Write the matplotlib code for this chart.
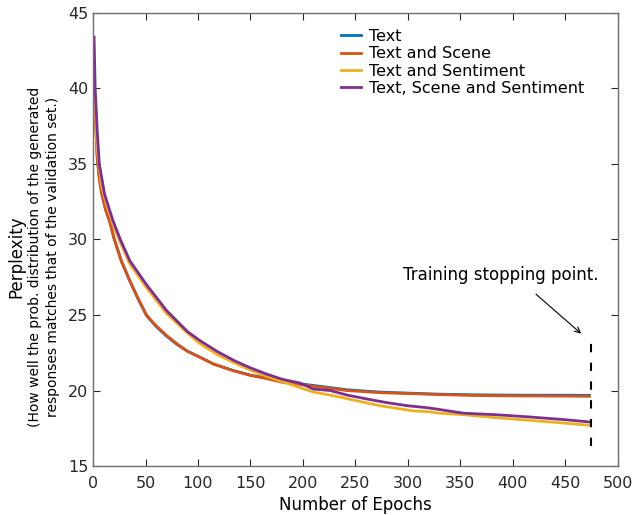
import numpy as np
import matplotlib
matplotlib.use("Agg")
import matplotlib.pyplot as plt

# values (epoch, perplexity)
ep_scene = [1, 2, 4, 6, 8, 12, 16, 20, 27, 35, 43, 51, 60, 70, 80, 90, 102, 115, 134,
            150, 165, 180, 197, 220, 242, 273, 300, 330, 360, 390, 420, 450, 473]
text_and_scene = [39.9, 38.5, 35.5, 34.1, 33.2, 32.0, 31.2, 30.1, 28.6, 27.3, 26.1, 25.0,
                  24.3, 23.65, 23.1, 22.6, 22.2, 21.75, 21.3, 21.0, 20.8, 20.55, 20.4,
                  20.2, 20.0, 19.86, 19.8, 19.73, 19.68, 19.65, 19.64, 19.63, 19.62]
text_only = [39.8, 38.4, 35.4, 34.0, 33.1, 31.95, 31.15, 30.05, 28.55, 27.25, 26.05,
             24.95, 24.25, 23.6, 23.05, 22.6, 22.2, 21.75, 21.32, 21.02, 20.83, 20.6,
             20.45, 20.25, 20.05, 19.9, 19.83, 19.76, 19.72, 19.7, 19.69, 19.69, 19.68]

ep_sent = [1, 2, 4, 8, 12, 19, 26, 35, 51, 70, 90, 102, 118, 134, 150, 165, 180, 197,
           210, 226, 242, 273, 305, 320, 330, 353, 384, 416, 448, 473]
text_and_sentiment = [40.2, 38.7, 36.0, 33.6, 32.5, 31.0, 29.8, 28.4, 26.8, 25.1, 23.8,
                      23.1, 22.4, 21.85, 21.35, 20.95, 20.6, 20.2, 19.9, 19.7, 19.46,
                      19.0, 18.65, 18.6, 18.5, 18.4, 18.2, 18.03, 17.85, 17.7]

ep_all = [1, 2, 4, 6, 11, 19, 26, 35, 43, 51, 60, 70, 80, 90, 102, 118, 134, 150, 165,
          180, 197, 210, 226, 242, 264, 280, 299, 320, 353, 384, 416, 448, 473]
text_scene_sentiment = [43.4, 40.1, 37.2, 35.0, 33.0, 31.25, 30.0, 28.6, 27.8, 27.0, 26.2,
                        25.3, 24.6, 23.9, 23.3, 22.6, 22.0, 21.5, 21.1, 20.75, 20.5, 20.1,
                        20.0, 19.7, 19.4, 19.2, 19.0, 18.85, 18.5, 18.4, 18.25, 18.08, 17.92]

stop_epoch = 474

plt.rcParams['font.family'] = 'DejaVu Sans'

fig = plt.figure(figsize=(6.35, 5.15), dpi=100)
ax = fig.add_axes([0.1465, 0.095, 0.8265, 0.88])

ax.plot(ep_scene, text_only, color='#0072BD', lw=2.0, label='Text')
ax.plot(ep_scene, text_and_scene, color='#D95319', lw=2.0, label='Text and Scene')
ax.plot(ep_sent, text_and_sentiment, color='#EDB120', lw=2.0, label='Text and Sentiment')
ax.plot(ep_all, text_scene_sentiment, color='#7E2F8E', lw=2.0,
        label='Text, Scene and Sentiment')

# stopping point marker
ax.plot([stop_epoch, stop_epoch], [16.3, 23.3], color='black', lw=1.5,
        linestyle=(0, (4, 5)))
ax.text(388, 27.65, 'Training stopping point.', ha='center', va='center', fontsize=12)
ax.annotate('', xy=(467, 23.65), xytext=(420, 26.5),
            arrowprops=dict(arrowstyle='->', color='black', lw=0.8))

ax.set_xlim(0, 500)
ax.set_ylim(15, 45)
ax.set_xticks(np.arange(0, 501, 50))
ax.set_yticks(np.arange(15, 46, 5))
ax.tick_params(direction='in', length=5, top=True, right=True, labelsize=11.5,
               colors='#262626', width=0.8)
ax.tick_params(axis='x', pad=7)
for s in ax.spines.values():
    s.set_color('#6e6e6e')
    s.set_linewidth(1.0)

ax.set_xlabel('Number of Epochs', fontsize=12, labelpad=4)

fig.text(16 / 635, 1 - 257 / 515, 'Perplexity', rotation=90, ha='center', va='center',
         fontsize=12)
fig.text(35 / 635, 1 - 257 / 515, '(How well the prob. distribution of the generated',
         rotation=90, ha='center', va='center', fontsize=10)
fig.text(53 / 635, 1 - 257 / 515, 'responses matches that of the validation set.)',
         rotation=90, ha='center', va='center', fontsize=10)

ax.legend(loc='upper left', bbox_to_anchor=(0.443, 1.0), frameon=False, fontsize=11.5,
          handlelength=1.2, handletextpad=0.5, labelspacing=0.15, borderaxespad=0.6)

fig.savefig('out.png', dpi=100)
